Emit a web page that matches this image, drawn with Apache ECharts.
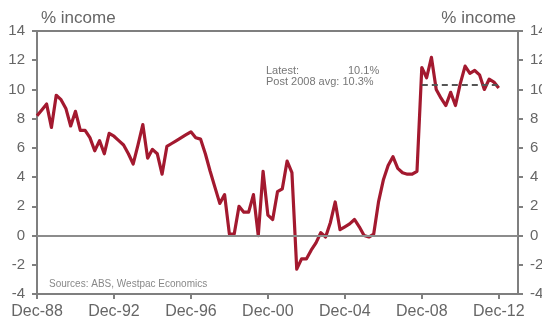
<!DOCTYPE html>
<html>
<head>
<meta charset="utf-8">
<script src="https://cdn.jsdelivr.net/npm/echarts@6/dist/echarts.min.js"></script>
<style>
  html, body { margin: 0; padding: 0; background: #fff; }
  #chart { width: 542px; height: 324px; }
</style>
</head>
<body>
<div id="chart"></div>
<script>
// Household saving ratio, quarterly, Dec-88 to Dec-12 (% of income)
const savingRatio = [
  8.2, 8.6, 9.0, 7.4, 9.6, 9.3, 8.7, 7.5, 8.5, 7.2,
  7.2, 6.7, 5.8, 6.5, 5.6, 7.0, 6.8, 6.5, 6.2, 5.6,
  4.9, 6.2, 7.6, 5.3, 5.9, 5.6, 4.2, 6.1, 6.3, 6.5,
  6.7, 6.9, 7.1, 6.7, 6.6, 5.6, 4.4, 3.3, 2.2, 2.8,
  0.1, 0.1, 2.0, 1.6, 1.6, 2.8, 0.0, 4.4, 1.4, 1.1,
  3.0, 3.2, 5.1, 4.3, -2.3, -1.6, -1.6, -1.0, -0.5, 0.2,
  -0.1, 0.9, 2.3, 0.4, 0.6, 0.8, 1.1, 0.6, 0.0, -0.1,
  0.1, 2.3, 3.8, 4.8, 5.4, 4.6, 4.3, 4.2, 4.2, 4.4,
  11.5, 10.8, 12.2, 10.0, 9.4, 8.9, 9.8, 8.9, 10.4, 11.6,
  11.1, 11.3, 11.0, 10.0, 10.7, 10.5, 10.1
];

// Average since Dec-08 and the quarter it starts from
const post2008Avg = 10.3;
const avgStartIndex = 80;

// Axis settings
const yTicks = { min: -4, max: 14, interval: 2 };
const firstYear = 1988;
const lastYear = 2013; // axis runs one year past the last observation

// Quarter labels Dec-88 ... Dec-13
const monthNames = ['Mar', 'Jun', 'Sep', 'Dec'];
const quarters = ['Dec-' + String(firstYear).slice(2)];
for (let y = firstYear + 1; y <= lastYear; y++) {
  for (const m of monthNames) quarters.push(m + '-' + String(y).slice(2));
}

const avgLine = quarters.map((_, i) =>
  (i >= avgStartIndex && i < savingRatio.length) ? post2008Avg : null);

const latest = savingRatio[savingRatio.length - 1];

const axisGrey = '#7f7f7f';
const textGrey = '#666666';
const font = '"Liberation Sans", Arial, sans-serif';

const yAxisCommon = {
  type: 'value',
  min: yTicks.min, max: yTicks.max, interval: yTicks.interval,
  splitLine: { show: false },
  axisLine: { show: true, lineStyle: { color: axisGrey, width: 2 } },
  axisTick: { show: true, length: 5, lineStyle: { color: axisGrey, width: 2 } },
  axisLabel: { color: textGrey, fontSize: 15, fontFamily: font, margin: 12 },
  name: '% income',
  nameLocation: 'end',
  nameGap: 4,
};

const chart = echarts.init(document.getElementById('chart'), null, { renderer: 'canvas' });
chart.setOption({
  animation: false,
  backgroundColor: '#ffffff',
  grid: {
    left: 37, right: 24, top: 31, bottom: 30,
    outerBoundsMode: 'none',
    containLabel: false,
    show: true, borderColor: axisGrey, borderWidth: 2, backgroundColor: 'transparent'
  },
  xAxis: {
    type: 'category',
    data: quarters,
    boundaryGap: false,
    axisLine: { show: true, onZero: false, lineStyle: { color: axisGrey, width: 2 } },
    axisTick: { show: true, interval: 15, length: 5, lineStyle: { color: axisGrey, width: 2 } },
    axisLabel: { interval: 15, color: textGrey, fontSize: 16, fontFamily: font, margin: 10 },
    splitLine: { show: false }
  },
  yAxis: [
    Object.assign({}, yAxisCommon, {
      position: 'left',
      nameTextStyle: { color: textGrey, fontSize: 17, fontFamily: font, align: 'left', padding: [0, 0, 0, 4] }
    }),
    Object.assign({}, yAxisCommon, {
      position: 'right',
      nameTextStyle: { color: textGrey, fontSize: 17, fontFamily: font, align: 'right', padding: [0, 2, 0, 0] }
    })
  ],
  series: [
    {
      // zero line
      type: 'line',
      data: [],
      z: 1,
      silent: true,
      markLine: {
        silent: true,
        symbol: 'none',
        label: { show: false },
        lineStyle: { color: '#8c8c8c', width: 2, type: 'solid' },
        data: [{ yAxis: 0 }]
      }
    },
    {
      name: 'Saving ratio',
      type: 'line',
      data: savingRatio,
      z: 3,
      symbol: 'none',
      lineStyle: { color: '#a3192f', width: 3.2, join: 'round' }
    },
    {
      name: 'Post 2008 avg',
      type: 'line',
      data: avgLine,
      z: 4,
      symbol: 'none',
      lineStyle: { color: '#555555', width: 2, type: [6, 4] }
    }
  ],
  graphic: [
    {
      type: 'text', left: 266, top: 65, z: 10,
      style: { text: 'Latest:', fill: '#777', fontSize: 11, fontFamily: font }
    },
    {
      type: 'text', left: 348, top: 65, z: 10,
      style: { text: latest.toFixed(1) + '%', fill: '#777', fontSize: 11, fontFamily: font }
    },
    {
      type: 'text', left: 266, top: 76, z: 10,
      style: { text: 'Post 2008 avg: ' + post2008Avg.toFixed(1) + '%', fill: '#777', fontSize: 11, fontFamily: font }
    },
    {
      type: 'text', left: 49, top: 279, z: 10,
      style: { text: 'Sources: ABS, Westpac Economics', fill: '#888', fontSize: 10, fontFamily: font }
    }
  ]
});
</script>
</body>
</html>
